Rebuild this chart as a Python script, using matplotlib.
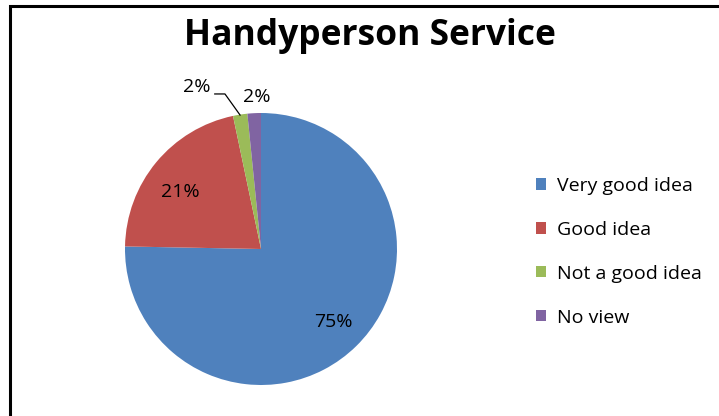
import matplotlib
matplotlib.use("Agg")
import matplotlib.pyplot as plt
from matplotlib.patches import Rectangle

plt.rcParams['font.family'] = ['Open Sans', 'DejaVu Sans']

title = "Handyperson Service"
categories = ["Very good idea", "Good idea", "Not a good idea", "No view"]
values = [75.3, 21.4, 1.7, 1.6]
colors = ["#4F81BD", "#C0504D", "#9BBB59", "#8064A2"]

W, H = 719, 416
fig = plt.figure(figsize=(W / 100, H / 100), dpi=100)

# frame border (left and top visible)
fig.add_artist(Rectangle((10 / W, -0.05), 1.2, (416 - 6) / H + 0.05, transform=fig.transFigure,
                         fill=False, edgecolor="black", linewidth=2.2))

cx, cy, r = 261, 249, 136
ax = fig.add_axes([(cx - r) / W, (H - cy - r) / H, 2 * r / W, 2 * r / H])
ax.set_xlim(-1, 1)
ax.set_ylim(-1, 1)
ax.set_aspect("equal")
ax.axis("off")

wedges, texts, autotexts = ax.pie(values, colors=colors, startangle=90, counterclock=False,
                                  radius=1, center=(0, 0), autopct=lambda p: f"{p:.0f}%",
                                  pctdistance=0.75,
                                  wedgeprops=dict(edgecolor="none"),
                                  textprops=dict(fontsize=14, color="black"))
ax.set_xlim(-1, 1)
ax.set_ylim(-1, 1)

# label placement
autotexts[0].set_position((0.53, -0.54))
autotexts[1].set_position((-0.595, 0.42))
autotexts[2].set_position((-0.47, 1.19))
autotexts[3].set_position((-0.03, 1.12))
ax.plot([-0.34, -0.265, -0.154], [1.14, 1.14, 0.985], color="black", linewidth=0.9, clip_on=False)
for t in autotexts[2:]:
    t.set_clip_on(False)

fig.text(370 / W, 1 - 36 / H, title, ha="center", va="center", fontsize=25.5, fontweight="bold")

leg = fig.legend(wedges, categories, loc="upper left", bbox_to_anchor=(536 / W, 1 - 177 / H),
                 frameon=False, fontsize=14, handlelength=0.52, handleheight=0.52,
                 handletextpad=0.55, labelspacing=1.33, borderaxespad=0, borderpad=0)

fig.savefig("out.png", dpi=100, facecolor="white")
